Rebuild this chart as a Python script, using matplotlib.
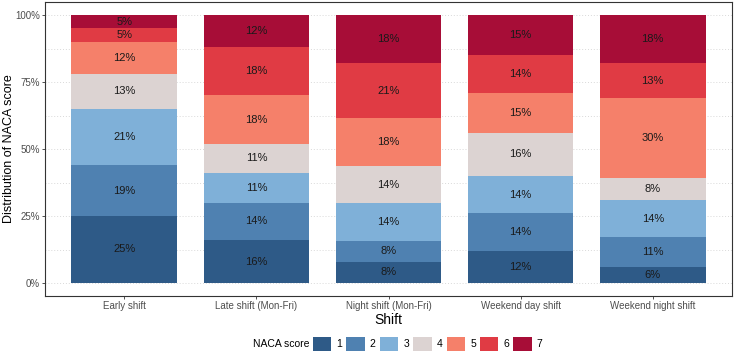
import numpy as np
import matplotlib.pyplot as plt
from matplotlib.patches import Patch

plt.rcParams['font.family'] = ['Liberation Sans', 'DejaVu Sans']

shifts = ['Early shift', 'Late shift (Mon-Fri)', 'Night shift (Mon-Fri)',
          'Weekend day shift', 'Weekend night shift']
naca_scores = ['1', '2', '3', '4', '5', '6', '7']

# percentages per NACA score, one list per score (order of shifts)
naca_1 = [25, 16, 8, 12, 6]
naca_2 = [19, 14, 8, 14, 11]
naca_3 = [21, 11, 14, 14, 14]
naca_4 = [13, 11, 14, 16, 8]
naca_5 = [12, 18, 18, 15, 30]
naca_6 = [5, 18, 21, 14, 13]
naca_7 = [5, 12, 18, 15, 18]

colors = ['#2E5A87', '#4F81B1', '#7FB0D8', '#DCD3D2', '#F5806A', '#E03B44', '#A70D37']

values = np.array([naca_1, naca_2, naca_3, naca_4, naca_5, naca_6, naca_7], dtype=float)
shares = values / values.sum(axis=0)  # position = "fill"

fig = plt.figure(figsize=(7.36, 3.53), dpi=100)
ax = fig.add_axes([45 / 736, 1 - 296.4 / 353, 687 / 736, 294.8 / 353])

x = np.arange(len(shifts))
bottom = np.zeros(len(shifts))
for i, score in enumerate(naca_scores):
    ax.bar(x, shares[i], bottom=bottom, width=0.8, color=colors[i],
           edgecolor='none', zorder=2)
    for j in range(len(shifts)):
        ax.text(x[j], bottom[j] + shares[i][j] / 2, f'{int(values[i][j])}%',
                ha='center', va='center', fontsize=8, color='#1a1a1a', zorder=3)
    bottom += shares[i]

ax.set_xlim(-0.6, len(shifts) - 0.4)
ax.set_ylim(-0.05, 1.05)
ax.set_yticks([0, 0.25, 0.5, 0.75, 1.0])
ax.set_yticklabels(['0%', '25%', '50%', '75%', '100%'])
ax.set_yticks([0.125, 0.375, 0.625, 0.875], minor=True)
ax.set_xticks(x)
ax.set_xticklabels(shifts)
ax.grid(axis='y', which='both', color='#d9d9d9', linestyle=(0, (1, 2)), linewidth=0.7, zorder=0)
ax.tick_params(axis='both', which='major', labelsize=7, labelcolor='#4d4d4d',
               color='#333333', length=2, width=0.6, pad=1.5)
ax.tick_params(axis='y', which='minor', length=0)
for spine in ax.spines.values():
    spine.set_color('#333333')
    spine.set_linewidth(0.8)

ax.set_xlabel('Shift', fontsize=10, labelpad=1)
ax.set_ylabel('Distribution of NACA score', fontsize=9)
ax.yaxis.set_label_coords(-30 / 687, 0.5)

handles = [Patch(facecolor=c, edgecolor='none') for c in colors]
fig.text(253 / 736, 1 - 344 / 353, 'NACA score', fontsize=7.5, va='center', ha='left')
fig.legend(handles, naca_scores, ncol=7, loc='center left',
           bbox_to_anchor=(313 / 736, 1 - 344 / 353), frameon=False,
           fontsize=7.5, handlelength=1.75, handleheight=1.55, handletextpad=0.5,
           columnspacing=0.4, borderaxespad=0, borderpad=0)

fig.savefig('out.png', dpi=100)
